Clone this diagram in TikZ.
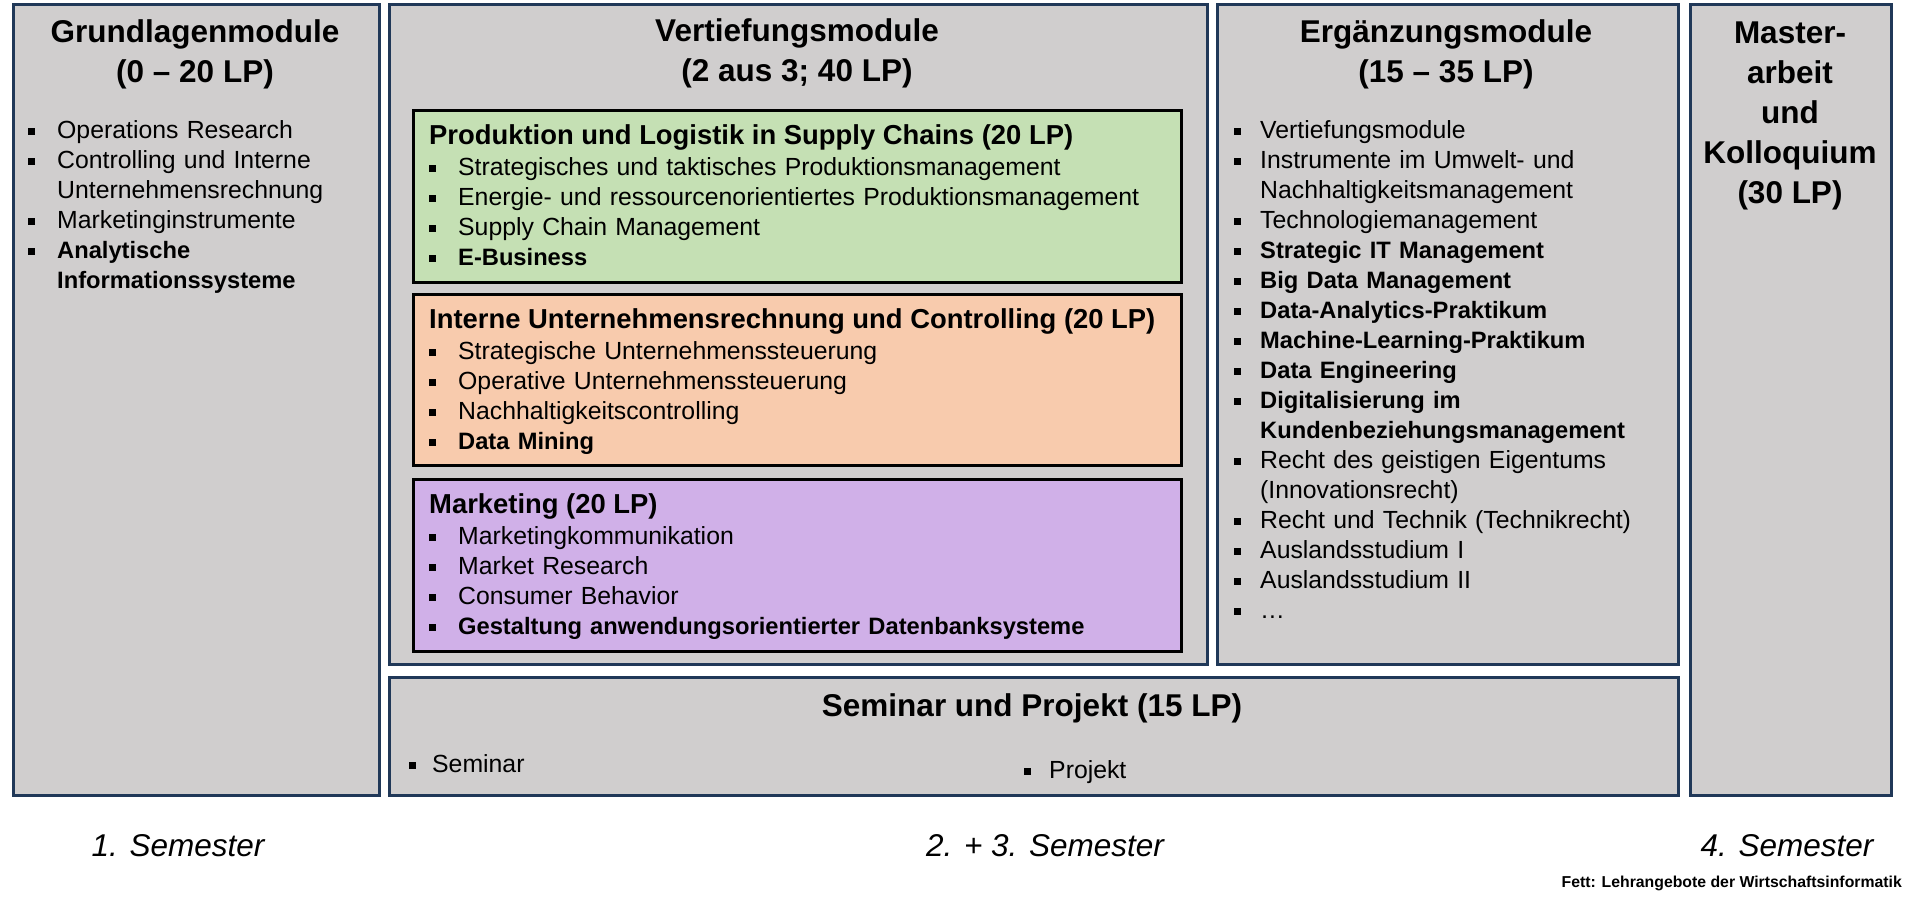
\documentclass[tikz,border=0pt]{standalone}
\usepackage{fontspec}
\setmainfont{Liberation Sans}
\definecolor{boxgray}{RGB}{208,206,206}
\definecolor{boxline}{RGB}{32,56,88}
\definecolor{prodgreen}{RGB}{197,224,180}
\definecolor{ctrlorange}{RGB}{248,203,173}
\definecolor{mktpurple}{RGB}{208,176,232}
\newcommand{\hdfont}  {\fontsize{31.5}{40}\selectfont\bfseries}
\newcommand{\subfont} {\fontsize{27.4}{30}\selectfont\bfseries}
\newcommand{\lstfont} {\fontsize{24.8}{30}\selectfont}
\newcommand{\semfont} {\fontsize{31.5}{36}\selectfont\itshape}
\newcommand{\notefont}{\fontsize{15.8}{18}\selectfont\bfseries}
\newcommand{\fett}[1]{{\fontsize{23.7}{30}\selectfont\bfseries #1}}
\newcommand{\tstrut}{\rule{0pt}{25pt}}
\newlength{\itmind}
\setlength{\itmind}{29pt}
\newcommand{\itm}[1]{\par\hangindent=\itmind\hangafter=1\noindent
  \rule{0pt}{20pt}\makebox[\itmind][l]{\rule[3pt]{7pt}{7pt}}#1}

\begin{document}
\begin{tikzpicture}[x=1pt,y=-1pt,
   modbox/.style={draw=boxline,fill=boxgray,line width=2.5pt,inner sep=0pt,anchor=north west},
   subbox/.style={draw=black,line width=2.5pt,inner sep=0pt,anchor=north west},
   modhead/.style={font=\hdfont,align=center,anchor=north,inner sep=0pt},
   subhead/.style={font=\subfont,anchor=base west,inner sep=0pt},
   lst/.style={font=\lstfont,align=left,anchor=north west,inner sep=0pt,text width=#1},
   semlab/.style={font=\semfont,anchor=base,inner sep=0pt}]
   \useasboundingbox (0,0) rectangle (1912,902);
 %
   \node[modbox,minimum width= 366pt,minimum height=791pt] (grund)  at (  12,   3) {};
   \node[modbox,minimum width= 818pt,minimum height=660pt] (vert)   at ( 388,   3) {};
   \node[modbox,minimum width= 461pt,minimum height=660pt] (erg)    at (1216,   3) {};
   \node[modbox,minimum width= 201pt,minimum height=791pt] (master) at (1689,   3) {};
   \node[modbox,minimum width=1289pt,minimum height=118pt] (sem)    at ( 388, 676) {};
   \node[subbox,fill=prodgreen, minimum width=768pt,minimum height=172pt] (prod) at (412, 109) {};
   \node[subbox,fill=ctrlorange,minimum width=768pt,minimum height=171pt] (ctrl) at (412, 293) {};
   \node[subbox,fill=mktpurple, minimum width=768pt,minimum height=172pt] (mkt)  at (412, 478) {};
 %
   \node[modhead] (grundhead)  at ( 195,  17) {\tstrut Grundlagenmodule\\(0 – 20 LP)};
   \node[modhead] (verthead)   at ( 797,  16) {\tstrut Vertiefungsmodule\\(2 aus 3; 40 LP)};
   \node[modhead] (erghead)    at (1446,  17) {\tstrut Ergänzungsmodule\\(15 – 35 LP)};
   \node[modhead] (masterhead) at (1790,  18) {\tstrut Master-\\arbeit\\und\\Kolloquium\\(30 LP)};
   \node[modhead] (semhead)    at (1032, 691) {\tstrut Seminar und Projekt (15 LP)};
 %
   \node[subhead] (prodhead) at (429, 144) {Produktion und Logistik in Supply Chains (20 LP)};
   \node[subhead] (ctrlhead) at (429, 328) {Interne Unternehmensrechnung und Controlling (20 LP)};
   \node[subhead] (mkthead)  at (429, 513) {Marketing (20 LP)};
 %
   \node[lst=340pt] (grundlist) at (28, 108) {%
     \itm{Operations Research}
     \itm{Controlling und Interne\newline Unternehmensrechnung}
     \itm{Marketinginstrumente}
     \itm{\fett{Analytische\newline Informationssysteme}}\par};
   \node[lst=740pt] (prodlist) at (429, 145) {%
     \itm{Strategisches und taktisches Produktionsmanagement}
     \itm{Energie- und ressourcenorientiertes Produktionsmanagement}
     \itm{Supply Chain Management}
     \itm{\fett{E-Business}}\par};
   \node[lst=740pt] (ctrllist) at (429, 329) {%
     \itm{Strategische Unternehmenssteuerung}
     \itm{Operative Unternehmenssteuerung}
     \itm{Nachhaltigkeitscontrolling}
     \itm{\fett{Data Mining}}\par};
   \node[lst=740pt] (mktlist) at (429, 514) {%
     \itm{Marketingkommunikation}
     \itm{Market Research}
     \itm{Consumer Behavior}
     \itm{\fett{Gestaltung anwendungsorientierter Datenbanksysteme}}\par};
   \node[lst=440pt] (erglist) at (1234, 108) {\setlength{\itmind}{26pt}%
     \itm{Vertiefungsmodule}
     \itm{Instrumente im Umwelt- und\newline Nachhaltigkeitsmanagement}
     \itm{Technologiemanagement}
     \itm{\fett{Strategic IT Management}}
     \itm{\fett{Big Data Management}}
     \itm{\fett{Data-Analytics-Praktikum}}
     \itm{\fett{Machine-Learning-Praktikum}}
     \itm{\fett{Data Engineering}}
     \itm{\fett{Digitalisierung im\newline Kundenbeziehungsmanagement}}
     \itm{Recht des geistigen Eigentums\newline (Innovationsrecht)}
     \itm{Recht und Technik (Technikrecht)}
     \itm{Auslandsstudium I}
     \itm{Auslandsstudium II}
     \itm{…}\par};
   \node[lst=200pt] (seminar) at ( 409, 742) {\setlength{\itmind}{23pt}\itm{Seminar}\par};
   \node[lst=200pt] (projekt) at (1024, 748) {\setlength{\itmind}{25pt}\itm{Projekt}\par};
 %
   \node[semlab] (sem1)  at ( 178, 856) {1. Semester};
   \node[semlab] (sem23) at (1045, 856) {2. + 3. Semester};
   \node[semlab] (sem4)  at (1787, 856) {4. Semester};
   \node[font=\notefont,anchor=base east,inner sep=0pt] (fett) at (1902, 887)
     {Fett: Lehrangebote der Wirtschaftsinformatik};
\end{tikzpicture}
\end{document}
